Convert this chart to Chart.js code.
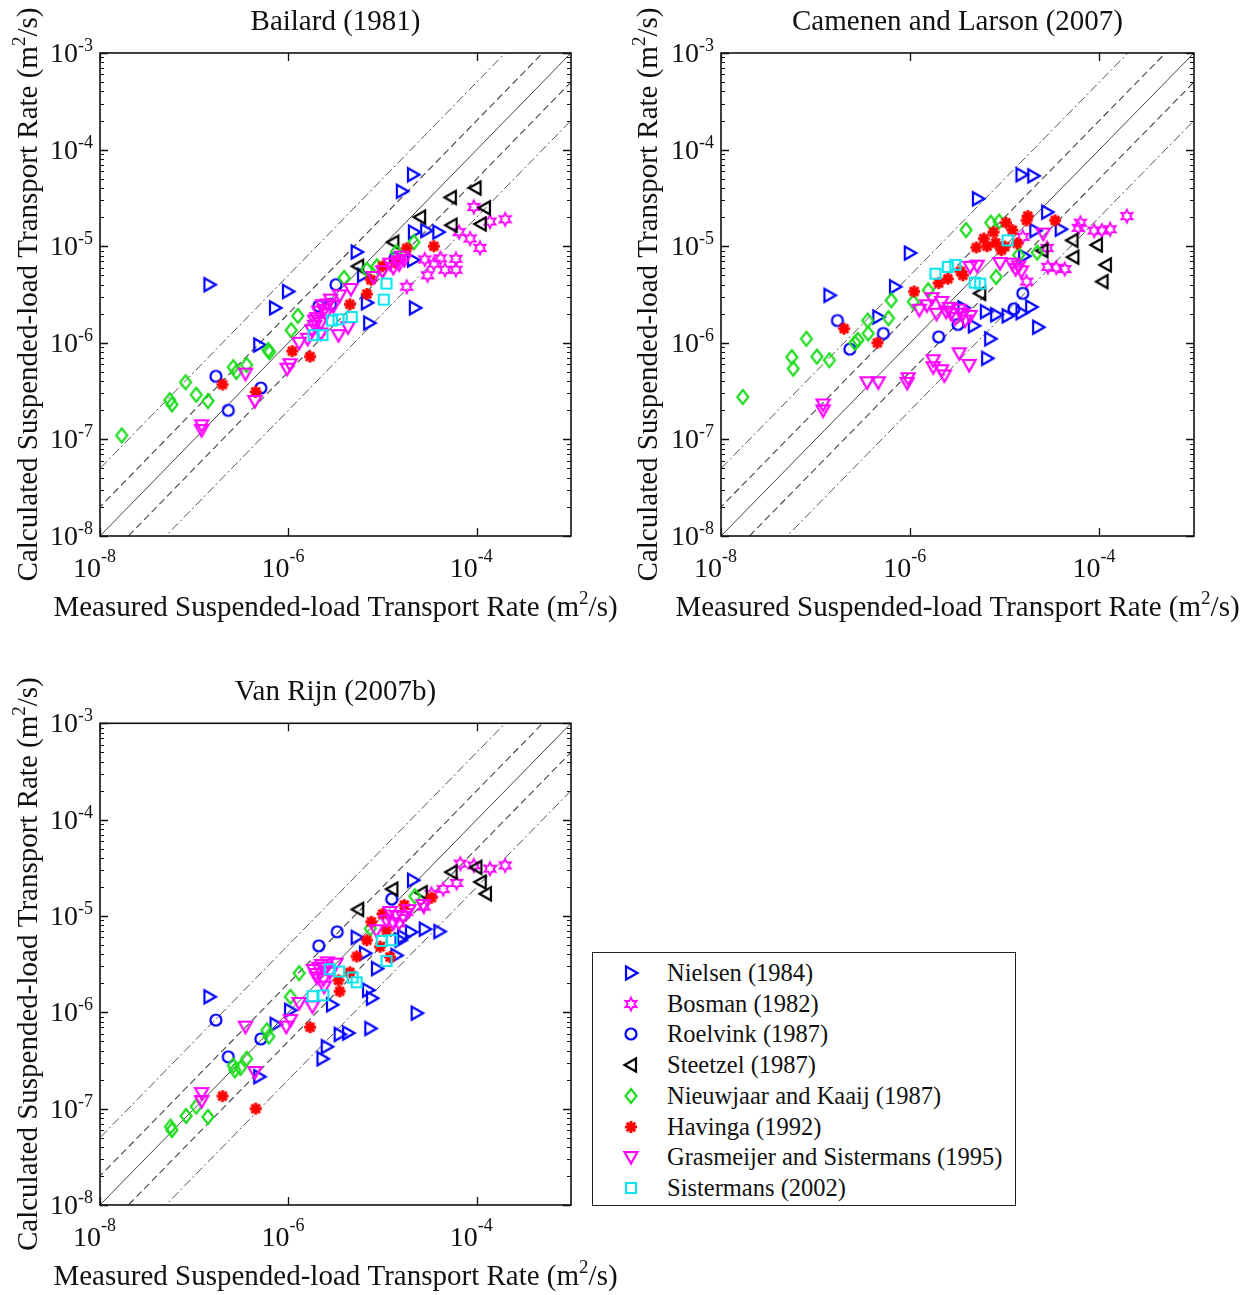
<!DOCTYPE html>
<html><head><meta charset="utf-8">
<script src="https://cdn.jsdelivr.net/npm/chart.js@4.4.1/dist/chart.umd.min.js"></script>
<style>
html,body{margin:0;padding:0;background:#fff;}
body{width:1250px;height:1295px;position:relative;overflow:hidden;font-family:"Liberation Serif","Times New Roman",serif;}
canvas.panel{position:absolute;}
#legend{position:absolute;left:592px;top:952px;width:424px;height:254px;border:1.5px solid #222;box-sizing:border-box;background:#fff;}
.li{position:absolute;left:0;width:420px;height:30px;}
.li canvas{position:absolute;left:28px;top:5px;}
.li span{position:absolute;left:74px;top:0;line-height:30px;font-size:24.5px;color:#111;white-space:nowrap;}
</style>
</head><body>
<canvas id="c1" class="panel" width="620" height="640" style="left:0;top:0"></canvas>
<canvas id="c2" class="panel" width="630" height="640" style="left:620px;top:0"></canvas>
<canvas id="c3" class="panel" width="620" height="625" style="left:0;top:670px"></canvas>
<div id="legend"></div>
<script>
// ---------- tick / axis definitions ----------
const xTickValues = [1e-8, 1e-6, 1e-4];
const xTickExponents = ['-8', '-6', '-4'];
const yTickValues = [1e-8, 1e-7, 1e-6, 1e-5, 1e-4, 1e-3];
const yTickExponents = ['-8', '-7', '-6', '-5', '-4', '-3'];
const minorMultipliers = [2, 3, 4, 5, 6, 7, 8, 9];
const axisMin = 1e-8, axisMax = 1e-3;
const refFactors = [1, 2, 0.5, 5, 0.2];
const panelTitles = ['Bailard (1981)', 'Camenen and Larson (2007)', 'Van Rijn (2007b)'];
const xAxisTitleMain = 'Measured Suspended-load Transport Rate (m';
const yAxisTitleMain = 'Calculated Suspended-load Transport Rate (m';
const axisTitleSup = '2';
const axisTitleEnd = '/s)';
const seriesNames = ['Nielsen (1984)', 'Bosman (1982)', 'Roelvink (1987)', 'Steetzel (1987)', 'Nieuwjaar and Kaaij (1987)', 'Havinga (1992)', 'Grasmeijer and Sistermans (1995)', 'Sistermans (2002)'];

// ---------- data: [measured, calculated] (m^2/s) ----------
// Bailard (1981)
const bailardNielsen = [[2.1e-5,5.5e-5],[1.6e-5,3.7e-5],[5.3e-6,8.7e-6],[1.45e-7,4.0e-6],[9.9e-7,3.4e-6],[7.2e-7,2.3e-6],[4.9e-7,9.5e-7],[2.15e-5,1.4e-5],[2.9e-5,1.45e-5],[3.9e-5,1.4e-5],[2.2e-5,2.3e-6],[7.2e-6,1.6e-6],[6.8e-6,2.6e-6],[6.2e-6,5.0e-6],[2.1e-5,7.2e-6]];
const bailardBosman = [[9.3e-5,2.55e-5],[1.38e-4,1.8e-5],[2.0e-4,1.9e-5],[6.5e-5,1.4e-5],[8.5e-5,1.2e-5],[1.08e-4,9.6e-6],[6.0e-5,7.4e-6],[4.6e-5,5.7e-6],[6.0e-5,5.7e-6],[3.0e-5,5.0e-6],[1.8e-5,3.8e-6],[4.1e-5,7.5e-6],[2.8e-5,7.3e-6],[3.5e-5,6.6e-6]];
const bailardRoelvink = [[1.7e-7,4.5e-7],[2.3e-7,2.0e-7],[5.1e-7,3.4e-7],[2.1e-6,2.4e-6],[3.2e-6,4.0e-6],[2.8e-6,2.5e-6],[1.35e-5,7.5e-6]];
const bailardSteetzel = [[9.7e-5,4.0e-5],[5.3e-5,3.2e-5],[1.22e-4,2.5e-5],[2.5e-5,2.0e-5],[1.1e-4,1.7e-5],[5.4e-5,1.65e-5],[1.3e-5,1.1e-5],[5.5e-6,6.2e-6]];
const bailardNieuwjaar = [[1.7e-8,1.1e-7],[5.5e-8,2.55e-7],[5.8e-8,2.3e-7],[8.1e-8,3.9e-7],[1.05e-7,2.9e-7],[1.4e-7,2.5e-7],[2.6e-7,5.6e-7],[2.8e-7,5.0e-7],[3.6e-7,5.9e-7],[6.1e-7,8.4e-7],[6.3e-7,8.0e-7],[1.07e-6,1.35e-6],[1.26e-6,1.9e-6],[3.9e-6,4.7e-6],[6.8e-6,5.7e-6],[8.7e-6,6.2e-6],[1.4e-5,8.7e-6],[2.15e-5,1.1e-5]];
const bailardHavinga = [[2.0e-7,3.7e-7],[4.5e-7,3.1e-7],[1.1e-6,8.2e-7],[1.7e-6,7.2e-7],[6.8e-6,3.2e-6],[7.5e-6,4.5e-6],[1.0e-5,6.2e-6],[1.8e-5,9.5e-6],[3.5e-5,1.0e-5],[4.5e-6,2.5e-6],[1.35e-5,6.8e-6]];
const bailardGrasmeijer = [[1.2e-7,1.4e-7],[1.2e-7,1.25e-7],[3.5e-7,4.8e-7],[4.4e-7,2.5e-7],[9.7e-7,5.4e-7],[1.04e-6,6.0e-7],[1.3e-6,1.0e-6],[3.4e-6,1.2e-6],[4.3e-6,1.45e-6],[1.78e-6,1.35e-6],[2.0e-6,1.8e-6],[2.3e-6,2.45e-6],[2.8e-6,2.8e-6],[3.5e-6,3.1e-6],[4.6e-6,3.6e-6],[1.7e-5,7.2e-6],[1.5e-5,6.5e-6],[1.3e-5,6.0e-6],[1.9e-6,1.5e-6],[2.2e-6,1.25e-6],[1.6e-6,1.1e-6],[8.0e-6,4.8e-6],[1.0e-5,5.5e-6],[2.5e-6,2.0e-6],[2.1e-6,2.1e-6],[2.4e-6,2.2e-6],[2.6e-6,2.5e-6],[3.0e-6,2.4e-6],[2.2e-6,1.6e-6],[1.9e-6,1.7e-6],[1.6e-5,7.8e-6],[1.45e-5,7.0e-6],[1.2e-5,6.6e-6]];
const bailardSistermans = [[1.85e-6,1.2e-6],[2.3e-6,1.2e-6],[2.9e-6,1.7e-6],[3.4e-6,1.75e-6],[4.7e-6,1.85e-6],[1.1e-5,4.1e-6],[1.03e-5,2.8e-6]];

// Camenen and Larson (2007)
const camenenNielsen = [[1.5e-5,5.5e-5],[2.0e-5,5.35e-5],[5.2e-6,3.1e-5],[2.8e-5,2.25e-5],[3.9e-5,1.5e-5],[2.1e-5,1.45e-5],[9.9e-7,8.5e-6],[6.9e-7,3.8e-6],[1.4e-7,3.1e-6],[1.6e-5,7.9e-6],[3.65e-6,2.3e-6],[6.3e-6,2.1e-6],[8.1e-6,1.95e-6],[1.07e-5,1.9e-6],[1.5e-5,2.05e-6],[1.9e-5,2.35e-6],[2.25e-5,1.45e-6],[4.7e-6,1.5e-6],[7.0e-6,1.1e-6],[6.5e-6,6.9e-7],[4.6e-7,1.85e-6]];
const camenenBosman = [[1.95e-4,2.05e-5],[6.3e-5,1.75e-5],[6.0e-5,1.55e-5],[8.8e-5,1.45e-5],[1.06e-4,1.45e-5],[1.3e-4,1.5e-5],[2.85e-5,6.1e-6],[3.5e-5,6.0e-6],[4.3e-5,5.8e-6],[1.7e-5,4.3e-6],[1.55e-5,1.25e-5],[2.8e-5,9.6e-6]];
const camenenRoelvink = [[1.7e-7,1.7e-6],[2.3e-7,8.6e-7],[5.2e-7,1.25e-6],[2.0e-6,1.15e-6],[3.2e-6,1.55e-6],[1.25e-5,2.25e-6],[1.55e-5,3.25e-6]];
const camenenSteetzel = [[5.2e-5,1.15e-5],[9.4e-5,1.03e-5],[5.3e-5,7.7e-6],[1.17e-4,6.4e-6],[1.08e-4,4.3e-6],[2.5e-5,9.0e-6],[5.5e-6,3.25e-6]];
const camenenNieuwjaar = [[1.7e-8,2.75e-7],[5.6e-8,7.1e-7],[5.8e-8,5.4e-7],[8.0e-8,1.1e-6],[1.03e-7,7.2e-7],[1.4e-7,6.6e-7],[2.6e-7,1.0e-6],[2.8e-7,1.07e-6],[3.55e-7,1.7e-6],[3.6e-7,1.25e-6],[5.9e-7,1.8e-6],[6.3e-7,2.75e-6],[1.08e-6,2.65e-6],[1.55e-6,3.5e-6],[3.9e-6,1.47e-5],[7.1e-6,1.75e-5],[8.7e-6,1.8e-5],[8.1e-6,4.8e-6],[1.4e-5,8.1e-6],[2.2e-5,8.6e-6]];
const camenenHavinga = [[2.0e-7,1.4e-6],[4.5e-7,1.0e-6],[1.1e-6,3.4e-6],[2.0e-6,4.15e-6],[3.4e-6,5.5e-6],[5.0e-6,9.7e-6],[6.5e-6,1.0e-5],[7.6e-6,1.4e-5],[1.03e-5,1.75e-5],[1.2e-5,1.47e-5],[1.0e-5,9.9e-6],[1.75e-5,2.05e-5],[1.7e-5,1.85e-5],[3.4e-5,1.85e-5],[1.35e-5,1.07e-5],[9.2e-6,9.1e-6],[3.6e-6,5.0e-6],[8.0e-6,1.08e-5],[6.0e-6,1.2e-5],[2.5e-6,4.6e-6]];
const camenenGrasmeijer = [[3.5e-7,3.9e-7],[4.6e-7,3.9e-7],[1.2e-7,2.3e-7],[1.2e-7,2.0e-7],[9.5e-7,4.3e-7],[9.3e-7,3.85e-7],[1.75e-6,6.6e-7],[1.75e-6,5.6e-7],[2.15e-6,5.2e-7],[2.3e-6,4.6e-7],[3.3e-6,7.8e-7],[4.2e-6,5.9e-7],[1.25e-6,2.2e-6],[1.5e-6,2.45e-6],[1.9e-6,2.0e-6],[2.4e-6,2.1e-6],[1.7e-6,2.9e-6],[2.15e-6,2.65e-6],[3.0e-6,1.8e-6],[3.8e-6,1.7e-6],[4.3e-6,1.9e-6],[4.3e-6,6.1e-6],[5.1e-6,6.3e-6],[8.9e-6,6.7e-6],[1.2e-5,6.6e-6],[2.55e-5,1.35e-5],[1.3e-5,5.8e-6],[1.5e-5,5.5e-6],[2.7e-6,2.0e-6],[3.3e-6,2.2e-6],[3.6e-6,2.0e-6],[2.6e-6,2.3e-6],[1.4e-5,6.2e-6]];
const camenenSistermans = [[1.85e-6,5.2e-6],[2.5e-6,6.1e-6],[3.0e-6,6.4e-6],[4.8e-6,4.2e-6],[5.5e-6,4.1e-6],[1.07e-5,1.15e-5]];

// Van Rijn (2007b)
const vanRijnNielsen = [[2.1e-5,2.35e-5],[5.3e-6,6.0e-6],[6.5e-6,4.1e-6],[8.7e-6,2.85e-6],[1.4e-5,3.9e-6],[1.65e-5,6.1e-6],[1.55e-5,5.6e-6],[2.0e-5,6.8e-6],[2.8e-5,7.3e-6],[4.0e-5,6.9e-6],[2.9e-6,1.2e-6],[7.0e-6,1.7e-6],[7.7e-6,1.4e-6],[2.3e-5,9.8e-7],[7.4e-6,6.8e-7],[4.3e-6,6.1e-7],[3.5e-6,5.9e-7],[2.55e-6,4.4e-7],[2.3e-6,3.3e-7],[4.9e-7,2.15e-7],[1.45e-7,1.45e-6],[1.04e-6,1.05e-6],[7.3e-7,7.5e-7]];
const vanRijnBosman = [[6.7e-5,3.5e-5],[9.3e-5,3.35e-5],[1.38e-4,3.1e-5],[2.0e-4,3.35e-5],[6.1e-5,2.2e-5],[4.4e-5,1.9e-5],[3.3e-5,1.7e-5],[2.75e-5,1.25e-5],[1.8e-5,1.1e-5],[1.5e-5,8.4e-6]];
const vanRijnRoelvink = [[2.1e-6,4.9e-6],[3.3e-6,6.85e-6],[1.25e-5,1.5e-5],[1.7e-7,8.3e-7],[2.3e-7,3.45e-7],[5.1e-7,5.3e-7]];
const vanRijnSteetzel = [[5.4e-5,2.85e-5],[9.9e-5,3.2e-5],[1.1e-4,2.25e-5],[1.25e-4,1.7e-5],[2.6e-5,1.75e-5],[1.27e-5,1.9e-5],[5.5e-6,1.17e-5]];
const vanRijnNieuwjaar = [[5.6e-8,6.5e-8],[5.8e-8,6.0e-8],[8.2e-8,8.4e-8],[1.05e-7,1.05e-7],[1.4e-7,8.2e-8],[2.6e-7,2.8e-7],[2.7e-7,2.5e-7],[3.6e-7,3.3e-7],[3.1e-7,2.65e-7],[5.9e-7,6.5e-7],[6.2e-7,5.6e-7],[1.05e-6,1.45e-6],[1.3e-6,2.55e-6],[7.4e-6,7.4e-6],[2.2e-5,1.6e-5]];
const vanRijnHavinga = [[2.0e-7,1.35e-7],[4.5e-7,1.0e-7],[1.7e-6,7.0e-7],[3.5e-6,1.65e-6],[3.4e-6,2.15e-6],[4.5e-6,2.6e-6],[5.3e-6,3.8e-6],[6.8e-6,5.6e-6],[7.6e-6,8.7e-6],[1.0e-5,1.05e-5],[1.7e-5,1.3e-5],[3.3e-5,1.55e-5],[9.4e-6,4.8e-6],[1.1e-5,7.1e-6],[1.2e-5,3.75e-6]];
const vanRijnGrasmeijer = [[1.2e-7,1.45e-7],[1.2e-7,1.2e-7],[3.5e-7,7.1e-7],[4.4e-7,2.4e-7],[9.5e-7,7.1e-7],[1.05e-6,8.3e-7],[1.3e-6,1.25e-6],[1.8e-6,1.15e-6],[2.4e-6,1.85e-6],[1.85e-6,2.75e-6],[2.25e-6,3.1e-6],[2.35e-6,2.2e-6],[2.75e-6,2.6e-6],[1.95e-6,2.5e-6],[3.2e-6,3.2e-6],[8.6e-6,7.1e-6],[1.3e-5,8.4e-6],[1.65e-5,9.8e-6],[2.7e-5,1.3e-5],[1.4e-5,1.0e-5],[1.1e-5,9.0e-6],[2.1e-6,2.9e-6],[2.5e-6,2.9e-6],[2.0e-6,2.3e-6],[2.6e-6,3.3e-6],[1.2e-5,1.1e-5],[1.9e-5,1.15e-5]];
const vanRijnSistermans = [[1.8e-6,1.47e-6],[2.35e-6,1.5e-6],[2.75e-6,2.8e-6],[3.45e-6,2.65e-6],[4.8e-6,2.3e-6],[5.3e-6,2.05e-6],[9.8e-6,5.5e-6],[1.25e-5,5.6e-6],[1.1e-5,3.4e-6]];

// ---------- styling ----------
const seriesColors = ['#0000ff', '#ff00ff', '#0000ff', '#000000', '#1edc1e', '#ff0000', '#ff00ff', '#10e4ee'];
const seriesShapes = ['triRight', 'hexagram', 'circle', 'triLeft', 'diamond', 'asterisk', 'triDown', 'square'];
const FONT = "'Liberation Serif','Times New Roman',serif";

function makeMarker(shape, color) {
  const c = document.createElement('canvas');
  c.width = 22; c.height = 22;
  const g = c.getContext('2d');
  const m = 11;
  g.strokeStyle = color; g.fillStyle = color;
  g.lineWidth = 2.2; g.lineJoin = 'miter';
  g.beginPath();
  switch (shape) {
    case 'triRight': g.moveTo(m-5,m-6.5); g.lineTo(m+6.5,m); g.lineTo(m-5,m+6.5); g.closePath(); break;
    case 'triLeft': g.moveTo(m+5,m-6.5); g.lineTo(m-6.5,m); g.lineTo(m+5,m+6.5); g.closePath(); break;
    case 'triDown': g.moveTo(m-6.5,m-5); g.lineTo(m+6.5,m-5); g.lineTo(m,m+6.5); g.closePath(); break;
    case 'circle': g.arc(m,m,5.5,0,Math.PI*2); break;
    case 'diamond': g.moveTo(m,m-7); g.lineTo(m+5.5,m); g.lineTo(m,m+7); g.lineTo(m-5.5,m); g.closePath(); break;
    case 'square': g.rect(m-5,m-5,10,10); break;
    case 'hexagram':
      g.lineWidth = 1.8;
      for (let k = 0; k < 12; k++) {
        const r = (k % 2) ? 3.3 : 6.5;
        const a = -Math.PI/2 + k*Math.PI/6;
        const px = m + r*Math.cos(a), py = m + r*Math.sin(a);
        if (k === 0) g.moveTo(px, py); else g.lineTo(px, py);
      }
      g.closePath(); break;
    case 'asterisk':
      g.lineWidth = 3;
      for (let k = 0; k < 4; k++) {
        const a = k*Math.PI/4;
        g.moveTo(m + 6*Math.cos(a), m + 6*Math.sin(a));
        g.lineTo(m - 6*Math.cos(a), m - 6*Math.sin(a));
      }
      break;
  }
  g.stroke();
  return c;
}
const markers = seriesShapes.map((s, i) => makeMarker(s, seriesColors[i]));

function drawTitleWithSup(ctx, main, cx, baseline) {
  ctx.font = '29px ' + FONT;
  const w1 = ctx.measureText(main).width;
  const w3 = ctx.measureText(axisTitleEnd).width;
  ctx.font = '19px ' + FONT;
  const w2 = ctx.measureText(axisTitleSup).width;
  const total = w1 + w2 + w3;
  let x = cx - total/2;
  ctx.textAlign = 'left';
  ctx.font = '29px ' + FONT;
  ctx.fillText(main, x, baseline); x += w1;
  ctx.font = '19px ' + FONT;
  ctx.fillText(axisTitleSup, x, baseline - 12); x += w2;
  ctx.font = '29px ' + FONT;
  ctx.fillText(axisTitleEnd, x, baseline);
}

// ---------- decorations drawn from the chart's scales ----------
const axisDecor = {
  id: 'axisDecor',
  afterDraw(chart) {
    const ctx = chart.ctx, a = chart.chartArea, xs = chart.scales.x, ys = chart.scales.y;
    ctx.save();
    ctx.strokeStyle = '#111';
    ctx.lineWidth = 1;
    ctx.beginPath();
    for (let i = 0; i < yTickValues.length - 1; i++) {
      for (const mlt of minorMultipliers) {
        const py = Math.round(ys.getPixelForValue(yTickValues[i]*mlt)) + 0.5;
        ctx.moveTo(a.left, py); ctx.lineTo(a.left + 4, py);
        ctx.moveTo(a.right, py); ctx.lineTo(a.right - 4, py);
      }
    }
    ctx.stroke();
    ctx.lineWidth = 1.3;
    ctx.beginPath();
    for (const v of yTickValues) {
      const py = Math.round(ys.getPixelForValue(v)) + 0.5;
      ctx.moveTo(a.left, py); ctx.lineTo(a.left + 8, py);
      ctx.moveTo(a.right, py); ctx.lineTo(a.right - 8, py);
    }
    for (const v of xTickValues) {
      const px = Math.round(xs.getPixelForValue(v)) + 0.5;
      ctx.moveTo(px, a.bottom); ctx.lineTo(px, a.bottom - 8);
      ctx.moveTo(px, a.top); ctx.lineTo(px, a.top + 8);
    }
    ctx.stroke();
    ctx.lineWidth = 1.6;
    ctx.strokeStyle = '#111';
    ctx.strokeRect(a.left, a.top, a.right - a.left, a.bottom - a.top);

    // tick labels
    ctx.fillStyle = '#111';
    ctx.textBaseline = 'alphabetic';
    xTickValues.forEach((v, i) => {
      const px = xs.getPixelForValue(v);
      ctx.font = '28px ' + FONT; ctx.textAlign = 'right';
      ctx.fillText('10', px + 1, a.bottom + 41);
      ctx.font = '18px ' + FONT; ctx.textAlign = 'left';
      ctx.fillText(xTickExponents[i], px + 1, a.bottom + 26);
    });
    yTickValues.forEach((v, i) => {
      const py = ys.getPixelForValue(v);
      ctx.font = '18px ' + FONT; ctx.textAlign = 'right';
      const w = ctx.measureText(yTickExponents[i]).width;
      ctx.fillText(yTickExponents[i], a.left - 7, py - 2);
      ctx.font = '28px ' + FONT;
      ctx.fillText('10', a.left - 7 - w, py + 9);
    });

    // axis titles
    drawTitleWithSup(ctx, xAxisTitleMain, (a.left + a.right)/2, a.bottom + 80);
    ctx.save();
    ctx.translate(37, (a.top + a.bottom)/2);
    ctx.rotate(-Math.PI/2);
    drawTitleWithSup(ctx, yAxisTitleMain, 0, 0);
    ctx.restore();
    ctx.restore();
  }
};

function refLineDatasets() {
  const styles = [
    {dash: [], color: '#444', width: 1},
    {dash: [7, 4], color: '#444', width: 1.1},
    {dash: [7, 4], color: '#444', width: 1.1},
    {dash: [9, 3, 2, 3], color: '#555', width: 1},
    {dash: [9, 3, 2, 3], color: '#555', width: 1}
  ];
  return refFactors.map((f, i) => ({
    label: 'ref' + f,
    data: [{x: 1e-9, y: f*1e-9}, {x: 1e-2, y: f*1e-2}],
    showLine: true,
    borderColor: styles[i].color,
    borderWidth: styles[i].width,
    borderDash: styles[i].dash,
    pointRadius: 0,
    clip: 0,
    order: 20
  }));
}

function buildChart(id, title, seriesData, geo) {
  const datasets = seriesData.map((arr, i) => ({
    label: seriesNames[i],
    data: arr.map(p => ({x: p[0], y: p[1]})),
    pointStyle: markers[i],
    pointRadius: 6,
    order: 8 - i
  })).concat(refLineDatasets());
  return new Chart(document.getElementById(id), {
    type: 'scatter',
    data: {datasets},
    options: {
      responsive: false,
      animation: false,
      events: [],
      layout: {padding: {left: 0, right: geo.right, top: 0, bottom: 0}},
      plugins: {
        legend: {display: false},
        tooltip: {enabled: false},
        title: {
          display: true, text: title, fullSize: false, color: '#111',
          font: {family: FONT, size: 29, weight: 'normal'},
          padding: {top: geo.titleTop, bottom: geo.titleBottom}
        }
      },
      scales: {
        x: {
          type: 'logarithmic', min: axisMin, max: axisMax,
          grid: {display: false}, border: {display: false}, ticks: {display: false},
          afterFit(s) { s.height = geo.xh; }
        },
        y: {
          type: 'logarithmic', min: axisMin, max: axisMax,
          grid: {display: false}, border: {display: false}, ticks: {display: false},
          afterFit(s) { s.width = geo.yw; }
        }
      }
    },
    plugins: [axisDecor]
  });
}

buildChart('c1', panelTitles[0],
  [bailardNielsen, bailardBosman, bailardRoelvink, bailardSteetzel, bailardNieuwjaar, bailardHavinga, bailardGrasmeijer, bailardSistermans],
  {right: 49, yw: 100, xh: 104, titleTop: 4.6, titleBottom: 13.6});
buildChart('c2', panelTitles[1],
  [camenenNielsen, camenenBosman, camenenRoelvink, camenenSteetzel, camenenNieuwjaar, camenenHavinga, camenenGrasmeijer, camenenSistermans],
  {right: 56, yw: 101, xh: 104, titleTop: 4.6, titleBottom: 13.6});
buildChart('c3', panelTitles[2],
  [vanRijnNielsen, vanRijnBosman, vanRijnRoelvink, vanRijnSteetzel, vanRijnNieuwjaar, vanRijnHavinga, vanRijnGrasmeijer, vanRijnSistermans],
  {right: 49, yw: 100, xh: 90, titleTop: 4.6, titleBottom: 13.9});

// ---------- legend ----------
const legend = document.getElementById('legend');
seriesNames.forEach((name, i) => {
  const row = document.createElement('div');
  row.className = 'li';
  row.style.top = (5 + i*30.7) + 'px';
  const cv = document.createElement('canvas');
  cv.width = 22; cv.height = 22;
  cv.style.left = '27px'; cv.style.top = '4px';
  cv.getContext('2d').drawImage(markers[i], 0, 0);
  const sp = document.createElement('span');
  sp.textContent = name;
  row.appendChild(cv); row.appendChild(sp);
  legend.appendChild(row);
});
</script>
</body></html>
